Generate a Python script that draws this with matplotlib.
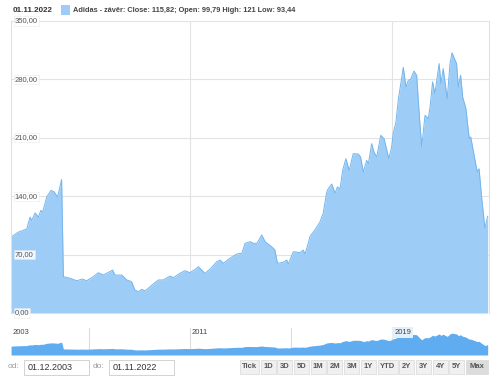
import numpy as np
import matplotlib.pyplot as plt
from matplotlib.patches import Rectangle

plt.rcParams['font.family'] = ['Liberation Sans', 'DejaVu Sans']

# decimal year / close price
years = [2003.92, 2004.21, 2004.54, 2004.67, 2004.74, 2004.87, 2005.00, 2005.10, 2005.17, 2005.33,
         2005.50, 2005.63, 2005.76, 2005.92, 2005.99, 2006.25, 2006.52, 2006.74, 2006.91, 2007.17,
         2007.37, 2007.57, 2007.70, 2007.94, 2008.03, 2008.30, 2008.50, 2008.69, 2008.82, 2008.95,
         2009.09, 2009.22, 2009.42, 2009.58, 2009.75, 2009.94, 2010.21, 2010.34, 2010.60, 2010.80,
         2011.00, 2011.26, 2011.33, 2011.59, 2011.79, 2012.06, 2012.19, 2012.32, 2012.58, 2012.85,
         2013.05, 2013.18, 2013.38, 2013.51, 2013.65, 2013.84, 2013.97, 2014.23, 2014.36, 2014.46,
         2014.69, 2014.83, 2014.89, 2015.09, 2015.35, 2015.48, 2015.55, 2015.68, 2015.75, 2015.94,
         2016.14, 2016.27, 2016.41, 2016.47, 2016.61, 2016.74, 2016.83, 2016.94, 2017.04, 2017.17,
         2017.30, 2017.46, 2017.66, 2017.75, 2017.86, 2017.99, 2018.06, 2018.19, 2018.28, 2018.39,
         2018.55, 2018.68, 2018.87, 2018.98, 2019.04, 2019.15, 2019.24, 2019.44, 2019.55, 2019.64,
         2019.73, 2019.86, 2019.97, 2020.07, 2020.17, 2020.30, 2020.43, 2020.50, 2020.60, 2020.69,
         2020.86, 2020.93, 2021.02, 2021.18, 2021.29, 2021.37, 2021.49, 2021.55, 2021.62, 2021.71,
         2021.79, 2021.92, 2022.05, 2022.11, 2022.28, 2022.37, 2022.44, 2022.54, 2022.67, 2022.78]
close = [91, 97, 100.7, 115, 111, 120, 115, 123, 121, 139,
         147, 145, 139, 160, 43.5, 41.6, 38.7, 40.7, 38.7, 43.5,
         48.3, 45.5, 47.6, 51.5, 45.5, 45.5, 39.6, 37.5, 27.6, 25.5,
         28.4, 26.4, 31.5, 35.6, 39.6, 39.6, 44.3, 42.3, 47.6, 50.7,
         48.3, 53.5, 55.5, 47.6, 52.4, 61.5, 63.5, 59.6, 65.6, 70.7,
         71.5, 83.5, 85.5, 83.5, 83.5, 93.5, 85.5, 79.5, 75.5, 59.6,
         60.8, 63.5, 58.7, 73.5, 72.3, 75.5, 70.7, 83.5, 92, 99.5,
         109, 119.5, 145, 149, 154.6, 143.5, 151, 149, 171, 185,
         171, 191, 190.6, 187, 169, 183, 179, 203, 193, 187,
         213, 209, 185, 199, 215, 229, 255, 294.5, 271, 279,
         280, 290, 285, 239, 199, 237, 233, 247, 277, 263,
         299, 275, 293, 257, 299, 312, 303, 299, 271, 285,
         259, 245, 209, 211, 183, 169, 173, 139, 101.5, 115.82]

yticks = [0, 70, 140, 210, 280, 350]
nav_years = [2003, 2011, 2019]
buttons = ['Tick', '1D', '3D', '5D', '1M', '2M', '3M', '1Y', 'YTD', '2Y', '3Y', '4Y', '5Y', 'Max']

W, H = 500, 387
fig = plt.figure(figsize=(W / 100, H / 100), dpi=100)


def fx(x):
    return x / W


def fy(y):
    return 1 - y / H


x0, x1 = 2003.917, 2022.833
fill_c = '#9dcdf7'
line_c = '#74b5ec'
grid_c = '#e3e3e3'

# main chart
ax = fig.add_axes([fx(11), fy(313), fx(489) - fx(11), fy(21) - fy(313)])
ax.fill_between(years, close, color=fill_c, lw=0)
ax.plot(years, close, color=line_c, lw=0.7)
ax.set_xlim(x0, x1)
ax.set_ylim(0, 350)
for v in yticks[1:]:
    ax.axhline(v, color=grid_c, lw=0.8, zorder=0)
for yr in [2011, 2019]:
    ax.axvline(yr, color=grid_c, lw=0.8, zorder=0)
ax.set_xticks([])
ax.set_yticks([])
for s in ['top', 'bottom']:
    ax.spines[s].set_visible(False)
for s in ['left', 'right']:
    ax.spines[s].set_color('#e0e0e0')
    ax.spines[s].set_linewidth(0.8)
for v in yticks:
    ax.text(0.008, v, f'{v:.2f}'.replace('.', ','), transform=ax.get_yaxis_transform(),
            ha='left', va='center', fontsize=5.5, color='#555555', clip_on=False,
            bbox=dict(boxstyle='square,pad=0.15', fc='white', ec='#e6e6e6', lw=0.4, alpha=0.85))

# header
fig.text(fx(13), fy(10), '01.11.2022', fontsize=5.8, fontweight='bold', color='#333333',
         ha='left', va='center')
fig.patches.append(Rectangle((fx(61), fy(15)), fx(9), fy(5) - fy(15), transform=fig.transFigure,
                             color=fill_c, lw=0))
fig.text(fx(73), fy(10), 'Adidas - závěr: Close: 115,82; Open: 99,79 High: 121 Low: 93,44',
         fontsize=5.3, fontweight='bold', color='#444444', ha='left', va='center')

# navigator
nav = fig.add_axes([fx(11), fy(355), fx(489) - fx(11), fy(328) - fy(355)])
nav.fill_between(years, close, -60, color='#5fadf0', lw=0)
nav.set_xlim(x0, x1)
nav.set_ylim(-60, 400)
for yr in [2007, 2011, 2015, 2019]:
    nav.axvline(yr, color='#dddddd', lw=0.8, zorder=0)
for yr in nav_years:
    bb = dict(boxstyle='square,pad=0.3', fc='#e3effb', ec='none') if yr == 2019 else None
    nav.text(max(yr, x0) + 0.08, 325, str(yr), fontsize=5.5, color='#444444', ha='left',
             va='center', bbox=bb)
nav.set_xticks([])
nav.set_yticks([])
for s in nav.spines.values():
    s.set_visible(False)

# date inputs
fig.text(fx(8), fy(367), 'od:', fontsize=6, color='#999999', ha='left', va='center')
fig.text(fx(93), fy(367), 'do:', fontsize=6, color='#999999', ha='left', va='center')
for left, label in [(24, '01.12.2003'), (109, '01.11.2022')]:
    fig.patches.append(Rectangle((fx(left), fy(375)), fx(65), fy(360) - fy(375),
                                 transform=fig.transFigure, fc='white', ec='#cccccc', lw=0.6))
    fig.text(fx(left + 4), fy(367.5), label, fontsize=6.5, color='#333333', ha='left', va='center')

# range buttons
widths = [19, 15, 15, 15, 15, 15, 15, 15, 20, 15, 15, 15, 15, 22]
bx = 240
for label, w in zip(buttons, widths):
    fc = '#dcdcdc' if label == 'Max' else '#f0f0f0'
    fig.patches.append(Rectangle((fx(bx), fy(374)), fx(w), fy(360) - fy(374),
                                 transform=fig.transFigure, fc=fc, ec='#d8d8d8', lw=0.5))
    fig.text(fx(bx + w / 2), fy(367), label, fontsize=5.5, fontweight='bold', color='#555555',
             ha='center', va='center')
    bx += w + 1.7

fig.savefig('out.png', dpi=100)
